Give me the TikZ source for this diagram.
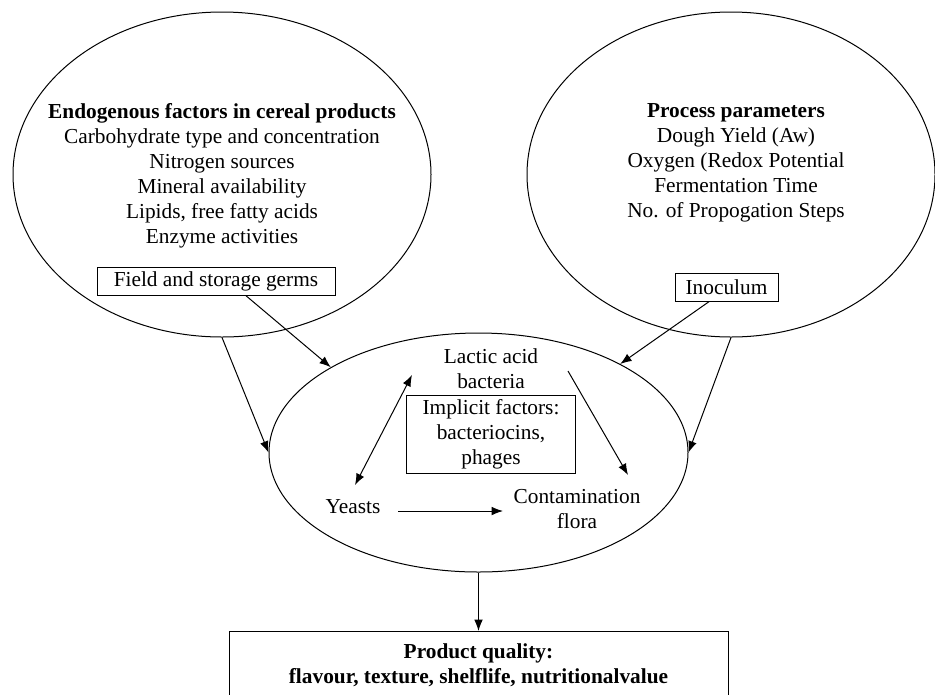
\documentclass[tikz,border=0pt]{standalone}
\usepackage{fontspec}
\setmainfont{Liberation Serif}
\usepackage{tikz}
\usetikzlibrary{calc,shapes.geometric,arrows.meta}

\begin{document}
\begin{tikzpicture}[x=0.75pt,y=-0.75pt,line width=0.75pt,
  >={Latex[length=8.5pt,width=6.5pt]},
  every node/.style={font=\fontsize{16pt}{18.75pt}\selectfont,align=center},
  oval/.style={draw,ellipse,inner sep=0pt},
  tag/.style={draw,inner sep=1pt}]
  \useasboundingbox (0,0) rectangle (935,694);

  %% The three ovals
  \node[oval,minimum width=313.5pt,minimum height=243.75pt] (endo) at (222,174.5) {};
  \node[oval,minimum width=306pt,minimum height=243.75pt] (proc) at (731,174.5) {};
  \node[oval,minimum width=314.25pt,minimum height=179.25pt] (mid) at (478.5,452.5) {};

  %% Texts of the upper ovals
  \node (endotxt) at (222,175.5)
  {\textbf{Endogenous factors in cereal products}\\Carbohydrate type and concentration\\
   Nitrogen sources\\Mineral availability\\Lipids, free fatty acids\\Enzyme activities};
  \node (proctxt) at (736,162.5)
  {\textbf{Process parameters}\\Dough Yield (Aw)\\Oxygen (Redox Potential\\
   Fermentation Time\\No. of Propogation Steps};
  \node[tag,minimum width=178.5pt,minimum height=21pt] (field) at (216,281) {Field and storage germs};
  \node[tag,minimum width=77.25pt,minimum height=21pt] (inoc) at (726.5,287) {Inoculum};

  %% Inside the middle oval
  \node (lab) at (491,369) {Lactic acid\\bacteria};
  \node[tag,minimum width=126.75pt,minimum height=58.5pt] (impl) at (491,434)
  {Implicit factors:\\bacteriocins,\\phages};
  \node (yeast) at (353,507) {Yeasts};
  \node (contam) at (577,509) {Contamination\\flora};

  %% Result
  \node[tag,anchor=north,minimum width=374.25pt,minimum height=50.25pt,
        font=\fontsize{16pt}{18.75pt}\selectfont\bfseries] (prod) at (478.5,631)
  {Product quality:\\flavour, texture, shelflife, nutritionalvalue};

  %% Arrows
  \draw[->] (endo.south) -- (mid.west);
  \draw[->] (proc.south) -- (mid.east);
  \draw[->] (field.-26) -- (mid.150);
  \draw[->] (inoc.-140) -- (mid.32);
  \draw[<->] ($(yeast)+(2,-22)$) -- ($(lab)+(-79,6)$);
  \draw[->] ($(lab)+(77,2)$) -- ($(contam)+(51,-34)$);
  \draw[->] ($(yeast)+(45,4)$) -- ($(contam)+(-74,2)$);
  \draw[->] (mid.south) -- (prod.north);
\end{tikzpicture}
\end{document}
